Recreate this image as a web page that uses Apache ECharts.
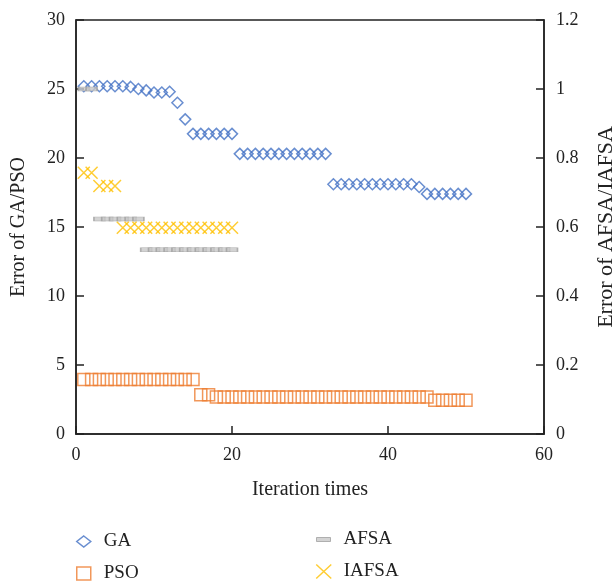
<!DOCTYPE html>
<html><head><meta charset="utf-8">
<script src="https://cdn.jsdelivr.net/npm/echarts@6/dist/echarts.min.js"></script>
<style>html,body{margin:0;padding:0;background:#fff}#c{width:616px;height:586px}</style>
</head><body><div id="c"></div>
<script>
// ---- data ----
const iterations = [1,2,3,4,5,6,7,8,9,10,11,12,13,14,15,16,17,18,19,20,21,22,23,24,25,26,27,28,29,30,31,32,33,34,35,36,37,38,39,40,41,42,43,44,45,46,47,48,49,50];
const gaValues = [25.2,25.2,25.2,25.2,25.2,25.2,25.15,25.0,24.9,24.75,24.75,24.8,24.0,22.8,
  21.75,21.75,21.75,21.75,21.75,21.75,
  20.3,20.3,20.3,20.3,20.3,20.3,20.3,20.3,20.3,20.3,20.3,20.3,
  18.1,18.1,18.1,18.1,18.1,18.1,18.1,18.1,18.1,18.1,18.1,
  17.9,17.4,17.4,17.4,17.4,17.4,17.4];
const psoValues = [3.95,3.95,3.95,3.95,3.95,3.95,3.95,3.95,3.95,3.95,3.95,3.95,3.95,3.95,3.95,
  2.85,2.85,
  2.68,2.68,2.68,2.68,2.68,2.68,2.68,2.68,2.68,2.68,2.68,2.68,2.68,2.68,2.68,2.68,2.68,2.68,2.68,2.68,2.68,2.68,2.68,2.68,2.68,2.68,2.68,2.68,
  2.45,2.45,2.45,2.45,2.45];
const swarmIterations = [1,2,3,4,5,6,7,8,9,10,11,12,13,14,15,16,17,18,19,20];
const afsaValues = [1.0,1.0,0.623,0.623,0.623,0.623,0.623,0.623,0.534,0.534,0.534,0.534,0.534,0.534,0.534,0.534,0.534,0.534,0.534,0.534];
const iafsaValues = [0.757,0.757,0.719,0.719,0.719,0.598,0.598,0.598,0.598,0.598,0.598,0.598,0.598,0.598,0.598,0.598,0.598,0.598,0.598,0.598];
const xTicks = [0,20,40,60];
const leftTicks = [0,5,10,15,20,25,30];
const rightTicks = [0,0.2,0.4,0.6,0.8,1,1.2];

// ---- chart ----
const FONT = '"Liberation Serif", "Times New Roman", serif';
const TXT = '#222';
const zip = (xs, ys) => xs.map((x, i) => [x, ys[i]]);
const XPATH = 'path://M0,0L10,10M10,0L0,10';
// legend icons: invisible move-to points pad the box to 30x14 so the icon keeps its size
const PAD = 'M0,0M30,14';
const LEG = {
  ga: 'path://' + PAD + 'M15,1.5L22,7L15,12.5L8,7Z',
  pso: 'path://' + PAD + 'M8,0.5L22,0.5L22,13.5L8,13.5Z',
  afsa: 'path://' + PAD + 'M8,5L22,5L22,9L8,9Z',
  iafsa: 'path://' + PAD + 'M7.5,0L22.5,14M22.5,0L7.5,14'
};
const C = {ga:'#4472C4', pso:'#ED7D31', afsa:'#A0A0A0', afsaFill:'#c8c8c8', iafsa:'#FFC000'};

const axisCommon = {
  axisLine:{show:true, lineStyle:{color:'#222', width:1.5}},
  axisTick:{show:true, inside:true, length:8, lineStyle:{color:'#222', width:1.5}},
  splitLine:{show:false},
  axisLabel:{fontFamily:FONT, fontSize:18, color:TXT},
  nameTextStyle:{fontFamily:FONT, fontSize:20, color:TXT}
};

function legendAt(left, top, name, icon, style) {
  return {left:left, top:top, padding:0, orient:'vertical', itemWidth:30, itemHeight:14,
    textStyle:{fontFamily:FONT, fontSize:19, color:TXT},
    data:[{name:name, icon:icon, itemStyle:style}]};
}

const chart = echarts.init(document.getElementById('c'), null, {renderer:'canvas'});
chart.setOption({
  animation:false,
  backgroundColor:'#fff',
  grid:{left:76, right:72, top:20, bottom:152, containLabel:false, outerBoundsMode:'none',
        show:true, borderColor:'#222', borderWidth:1.5, backgroundColor:'transparent'},
  xAxis:Object.assign({}, axisCommon, {
    type:'value', min:xTicks[0], max:xTicks[xTicks.length-1], interval:xTicks[1]-xTicks[0],
    name:'Iteration times', nameLocation:'middle', nameGap:46,
    axisLabel:Object.assign({}, axisCommon.axisLabel, {margin:12})
  }),
  yAxis:[
    Object.assign({}, axisCommon, {
      type:'value', position:'left', min:leftTicks[0], max:leftTicks[leftTicks.length-1], interval:leftTicks[1]-leftTicks[0],
      name:'Error of GA/PSO', nameLocation:'middle', nameGap:47, nameRotate:90,
      axisLabel:Object.assign({}, axisCommon.axisLabel, {margin:11})
    }),
    Object.assign({}, axisCommon, {
      type:'value', position:'right', min:rightTicks[0], max:rightTicks[rightTicks.length-1], interval:0.2,
      name:'Error of AFSA/IAFSA', nameLocation:'middle', nameGap:51, nameRotate:90,
      nameTextStyle:{fontFamily:FONT, fontSize:22, color:TXT},
      axisLabel:Object.assign({}, axisCommon.axisLabel, {margin:12})
    })
  ],
  legend:[
    legendAt(68, 532, 'GA', LEG.ga, {color:'rgba(0,0,0,0)', borderColor:C.ga, borderWidth:1.5}),
    legendAt(68, 564, 'PSO', LEG.pso, {color:'rgba(0,0,0,0)', borderColor:C.pso, borderWidth:1.5}),
    legendAt(308, 530, 'AFSA', LEG.afsa, {color:C.afsaFill, borderColor:C.afsa, borderWidth:1}),
    legendAt(308, 562, 'IAFSA', LEG.iafsa, {color:'rgba(0,0,0,0)', borderColor:C.iafsa, borderWidth:1.5})
  ],
  series:[
    {name:'GA', type:'scatter', yAxisIndex:0, data:zip(iterations, gaValues),
     symbol:'diamond', symbolSize:11,
     itemStyle:{color:'rgba(0,0,0,0)', borderColor:C.ga, borderWidth:1.5}},
    {name:'PSO', type:'scatter', yAxisIndex:0, data:zip(iterations, psoValues),
     symbol:'rect', symbolSize:12,
     itemStyle:{color:'rgba(0,0,0,0)', borderColor:C.pso, borderWidth:1.5}},
    {name:'AFSA', type:'scatter', yAxisIndex:1, data:zip(swarmIterations, afsaValues),
     symbol:'rect', symbolSize:[11,4],
     itemStyle:{color:C.afsaFill, borderColor:C.afsa, borderWidth:1}},
    {name:'IAFSA', type:'scatter', yAxisIndex:1, data:zip(swarmIterations, iafsaValues),
     symbol:XPATH, symbolSize:12,
     itemStyle:{color:'rgba(0,0,0,0)', borderColor:C.iafsa, borderWidth:1.5}}
  ]
});
</script>
</body></html>
